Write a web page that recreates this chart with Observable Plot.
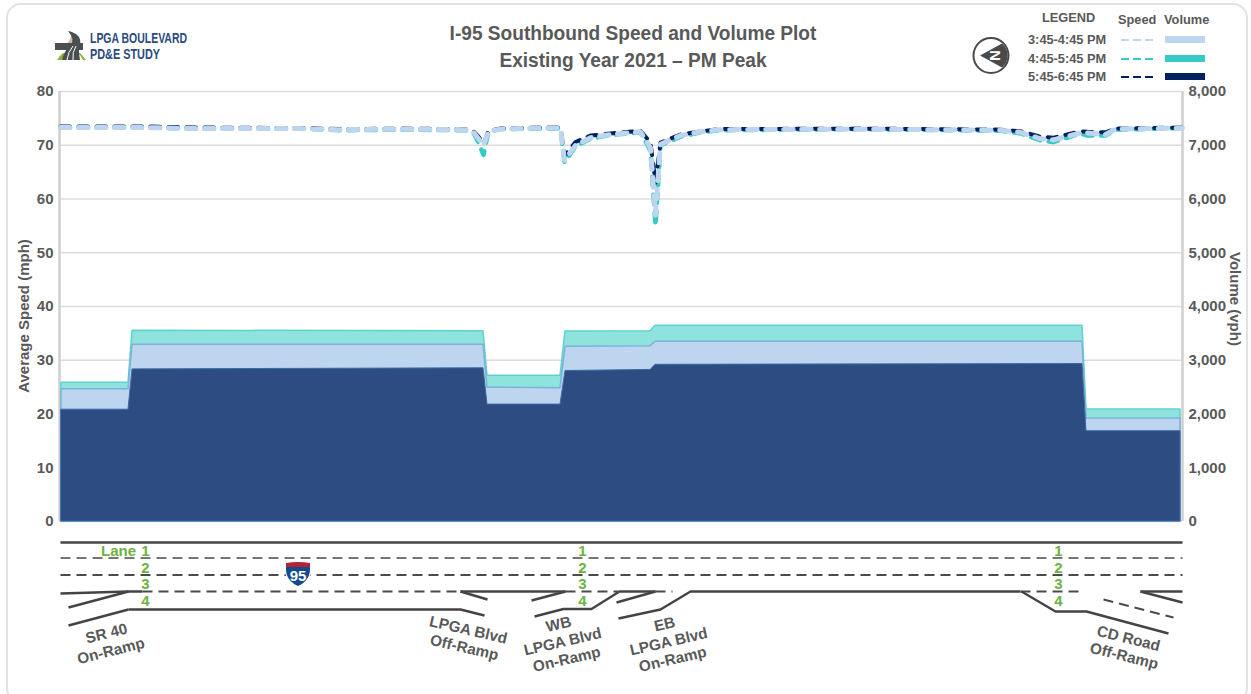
<!DOCTYPE html>
<html><head><meta charset="utf-8">
<script src="https://cdn.jsdelivr.net/npm/d3@7"></script>
<script src="https://cdn.jsdelivr.net/npm/@observablehq/plot@0.6"></script>
<style>
html,body{margin:0;padding:0;background:#fff;}
#page{position:relative;width:1251px;height:694px;overflow:hidden;font-family:"Liberation Sans",Arial,sans-serif;color:#595959;}
#card{position:absolute;left:6px;top:3px;width:1242px;height:700px;border:2px solid #e2e2e2;border-radius:15px;box-sizing:border-box;}
.abs{position:absolute;}
#title{left:333px;width:600px;top:19.5px;text-align:center;font-weight:bold;font-size:20px;line-height:27.5px;transform:scaleX(0.955);}
.lg{position:absolute;font-size:12.8px;font-weight:bold;line-height:14px;white-space:nowrap;}
.ax{position:absolute;font-size:15px;font-weight:bold;white-space:nowrap;line-height:18px;width:200px;text-align:center;}
</style></head><body>
<div id="page">
<div id="card"></div>
<div id="title" class="abs">I-95 Southbound Speed and Volume Plot<br>Existing Year 2021 – PM Peak</div>
<div class="ax" style="left:-76px;top:307px;transform:rotate(-90deg)">Average Speed (mph)</div>
<div class="ax" style="left:1135px;top:290px;transform:rotate(90deg)">Volume (vph)</div>
<svg class="abs" style="left:52px;top:28px" width="300" height="36" viewBox="0 0 300 36">
<path d="M5 32 Q8 27 11 25 L14 25 Q11 28 10 32Z" fill="#8fb33c"/>
<path d="M31 32 Q29 28 26 25 L28 25 Q31 28 34 32Z" fill="#8fb33c"/>
<path d="M9 18 Q20 15 19 4 Q29 10 27 17 L25 20Z" fill="#d2b9a0"/>
<path d="M3 15 L31 15 L31 22 L3 22Z" fill="#4a4f50"/>
<path d="M10 32 Q12 23 18 18 Q24 12 16 3 Q30 6 28 16 Q26 21 28 32Z" fill="#4a4f50"/>
<path d="M15 32 Q16 24 21 18" stroke="#fff" stroke-width="1" fill="none"/>
<path d="M21 32 Q20 24 24 18" stroke="#fff" stroke-width="1" fill="none"/>
<text x="38" y="15" font-family="Liberation Sans" font-weight="bold" font-size="15" fill="#2b4a80" textLength="97" lengthAdjust="spacingAndGlyphs">LPGA BOULEVARD</text>
<text x="38" y="31" font-family="Liberation Sans" font-weight="bold" font-size="15" fill="#2b4a80" textLength="70" lengthAdjust="spacingAndGlyphs">PD&amp;E STUDY</text>
</svg>
<svg class="abs" style="left:970px;top:36px" width="42" height="42" viewBox="0 0 42 42">
<circle cx="21" cy="19.5" r="17.5" fill="#fff" stroke="#4a4a4a" stroke-width="2"/>
<path d="M10 19.5 L32 7.5 A 15.5 15.5 0 0 1 32 31.5Z" fill="#4a4a4a"/>
<text x="0" y="0" transform="translate(25,19.5) rotate(-90)" text-anchor="middle" dy="5" font-family="Liberation Sans" font-weight="bold" font-size="15" fill="#fff">N</text>
</svg>
<div id="legend"></div>
</div>
<script>
// Station position along the corridor (0 = left end of plot)
const volumeStations = [1, 68, 72, 423, 427, 500, 505, 590, 595, 1022, 1026, 1120];
const volume345 = [2460, 2460, 3290, 3290, 2490, 2480, 3250, 3260, 3345, 3345, 1915, 1915];
const volume445 = [2580, 2580, 3550, 3540, 2710, 2710, 3535, 3540, 3640, 3640, 2085, 2085];
const volume545 = [2080, 2080, 2830, 2850, 2175, 2175, 2800, 2820, 2915, 2930, 1680, 1680];

const speedStations = [0, 80, 140, 240, 280, 340, 405, 413, 418, 423, 428, 440, 480, 500, 504, 515, 530, 550, 580, 590, 595, 600, 620, 640, 660, 800, 940, 960, 980, 993, 1020, 1027, 1045, 1055, 1122];
const speed345 = [73.3, 73.3, 73.1, 73.1, 72.9, 73.0, 72.9, 72.4, 71.2, 70.0, 72.6, 73.0, 73.2, 73.2, 67.2, 70.0, 71.4, 72.0, 72.5, 69.5, 57.0, 70.2, 71.8, 72.5, 72.9, 73.0, 72.8, 72.4, 71.2, 71.0, 72.3, 72.3, 72.0, 73.0, 73.2];
const speed445 = [73.3, 73.3, 73.1, 73.1, 72.8, 72.9, 72.8, 72.3, 70.5, 68.2, 72.6, 73.0, 73.1, 73.1, 66.8, 69.8, 71.2, 71.9, 72.4, 69.0, 55.0, 70.0, 71.6, 72.4, 72.8, 73.0, 72.7, 72.2, 70.9, 70.6, 72.2, 71.8, 71.8, 72.9, 73.2];
const speed545 = [73.5, 73.5, 73.3, 73.2, 73.0, 73.1, 73.0, 72.6, 71.6, 70.2, 72.7, 73.1, 73.3, 73.3, 68.0, 70.6, 71.8, 72.2, 72.7, 70.5, 63.0, 70.5, 72.0, 72.6, 73.0, 73.1, 72.9, 72.6, 71.6, 71.4, 72.6, 72.5, 72.4, 73.1, 73.3];

const mphTicks = [0, 10, 20, 30, 40, 50, 60, 70, 80];
const periods = ["3:45-4:45 PM", "4:45-5:45 PM", "5:45-6:45 PM"];
const lineColors = ["#bdd5ee", "#35cbc4", "#002060"];
const fillColors = ["#bdd5ee", "#8fe3dd", "#2d4d82"];

const volRows = (arr) => volumeStations.map((s, i) => ({s, v: arr[i] / 100}));
const spdRows = (arr) => speedStations.map((s, i) => ({s, v: arr[i]}));
const X = {domain: [0, 1122], range: [60, 1182]};
const speedDash = "9.5 8.5";

const chart = Plot.plot({
  width: 1251, height: 535, marginTop: 91, marginBottom: 14, marginLeft: 59, marginRight: 69,
  x: {...X, axis: null},
  y: {domain: [0, 80], range: [521, 91]},
  style: {background: "transparent", fontFamily: "Liberation Sans", overflow: "visible"},
  marks: [
    Plot.ruleY(mphTicks, {stroke: "#dcdcdc", strokeWidth: 1.5, x1: -1, x2: 1122}),
    Plot.ruleX([-1, 1122], {stroke: "#cfcfcf", strokeWidth: 2.5, y1: 0, y2: 80}),
    Plot.areaY(volRows(volume445), {x: "s", y: "v", fill: fillColors[1], stroke: "#5ed3ce", strokeWidth: 1.5}),
    Plot.areaY(volRows(volume345), {x: "s", y: "v", fill: fillColors[0], stroke: "#7bb2dc", strokeWidth: 1.5}),
    Plot.areaY(volRows(volume545), {x: "s", y: "v", fill: fillColors[2], stroke: "#3a6aa5", strokeWidth: 1}),
    Plot.line(spdRows(speed445), {x: "s", y: "v", stroke: lineColors[1], strokeWidth: 4.5, strokeDasharray: speedDash}),
    Plot.line(spdRows(speed545), {x: "s", y: "v", stroke: lineColors[2], strokeWidth: 4, strokeDasharray: speedDash}),
    Plot.line(spdRows(speed345), {x: "s", y: "v", stroke: lineColors[0], strokeWidth: 5, strokeDasharray: speedDash}),
    Plot.axisY(mphTicks, {anchor: "left", tickSize: 0, tickPadding: 6, fontSize: 15, fontWeight: "bold", fill: "#595959",
      label: null, tickFormat: d => d}),
    Plot.axisY(mphTicks, {anchor: "right", tickSize: 0, tickPadding: 6, fontSize: 15, fontWeight: "bold", fill: "#595959",
      label: null, tickFormat: d => d3.format(",")(d * 100)})
  ]
});
chart.style.position = "absolute";
chart.style.left = "0";
chart.style.top = "0";
document.getElementById("page").appendChild(chart);

// Road schematic: station along corridor vs offset from the schematic's top
const edges = [
  [[0, 12], [1122, 12]],
  [[68, 79], [400, 79], [424, 85]],
  [[0, 63], [68, 61], [82, 61]],
  [[8, 77], [68, 61]],
  [[8, 95], [68, 79]],
  [[400, 61], [505, 61]],
  [[400, 61], [427, 69]],
  [[471, 70], [505, 61]],
  [[474, 86], [503, 78.5], [531, 78.5], [559, 61], [595, 61]],
  [[556, 72], [595, 61]],
  [[558, 88], [600, 79], [630, 61], [960, 61]],
  [[961, 61], [995, 81], [1026, 81], [1108, 103]],
  [[1080, 61], [1122, 61]],
  [[1080, 61], [1122, 72]]
];
const laneLines = [
  {pts: [[0, 27.5], [1122, 27.5]], w: 1.6},
  {pts: [[0, 44.5], [1122, 44.5]], w: 2.2},
  {pts: [[82, 61], [400, 61]], w: 2},
  {pts: [[505, 61], [558, 61]], w: 2},
  {pts: [[595, 61], [612, 61]], w: 2},
  {pts: [[960, 61], [1020, 61]], w: 2},
  {pts: [[1043, 69], [1113, 87]], w: 2}
];
const laneNumbers = ["1", "2", "3", "4"];
const laneY = [21, 38, 54, 71];
const laneX = [85, 522, 998];
const rampLabels = [
  {t: "SR 40\nOn-Ramp", s: 48, o: 111, r: -14},
  {t: "LPGA Blvd\nOff-Ramp", s: 406, o: 107.5, r: 13},
  {t: "WB\nLPGA Blvd\nOn-Ramp", s: 502, o: 110.5, r: -13},
  {t: "EB\nLPGA Blvd\nOn-Ramp", s: 608, o: 110.5, r: -13},
  {t: "CD Road\nOff-Ramp", s: 1066, o: 116, r: 14}
];
const lanesText = laneX.flatMap(s => laneNumbers.map((t, i) => ({s, o: laneY[i], t})));
const asRows = (pts) => pts.map(([s, o]) => ({s, o}));

const road = Plot.plot({
  width: 1251, height: 164, marginTop: 0, marginBottom: 0, marginLeft: 60, marginRight: 69,
  x: {...X, axis: null},
  y: {domain: [0, 164], range: [0, 164], axis: null},
  style: {background: "transparent", fontFamily: "Liberation Sans"},
  marks: [
    ...laneLines.map(l => Plot.line(asRows(l.pts), {x: "s", y: "o", stroke: "#4a4a4a", strokeWidth: l.w, strokeDasharray: "10 6", strokeLinecap: "butt"})),
    ...edges.map(e => Plot.line(asRows(e), {x: "s", y: "o", stroke: "#444", strokeWidth: 2.4, strokeLinecap: "butt"})),
    Plot.text(lanesText, {x: "s", y: "o", text: "t", fill: "#6cb33f", fontSize: 15, fontWeight: "bold"}),
    Plot.text(["Lane"], {x: [58], y: [21], text: d => d, fill: "#6cb33f", fontSize: 15, fontWeight: "bold"}),
    Plot.text(rampLabels, {x: "s", y: "o", text: "t", rotate: "r", fill: "#595959", fontSize: 15.3, fontWeight: "bold", lineHeight: 1.18})
  ]
});
road.style.position = "absolute";
road.style.left = "0";
road.style.top = "530px";
document.getElementById("page").appendChild(road);

document.getElementById("page").insertAdjacentHTML("beforeend",
`<svg class="abs" style="left:284px;top:560px" width="28" height="28" viewBox="0 0 28 28">
<path d="M2 3 Q14 0 26 3 Q27 20 14 26 Q1 20 2 3Z" fill="#fff" stroke="#fff" stroke-width="3"/>
<path d="M2 3 Q14 1 26 3 L26 7 L2 7Z" fill="#b52135"/>
<path d="M2 7 L26 7 Q27 20 14 26 Q1 20 2 7Z" fill="#12498f"/>
<text x="14" y="21" text-anchor="middle" font-family="Liberation Sans" font-weight="bold" font-size="15" fill="#fff">95</text>
</svg>`);

// Legend
const lg = document.getElementById("legend");
const add = (txt, css) => { const d = document.createElement("div"); d.className = "lg"; d.style.cssText = css; d.textContent = txt; lg.appendChild(d); };
add("LEGEND", "left:1042px;top:11px;");
add("Speed", "left:1118px;top:13px;");
add("Volume", "left:1164px;top:13px;");
periods.forEach((p, i) => {
  const y = 33 + i * 18.6;
  add(p, `left:1028px;top:${y}px;`);
  lg.insertAdjacentHTML("beforeend",
    `<svg class="abs" style="left:1120px;top:${y + 3}px" width="34" height="8"><line x1="1" x2="33" y1="4" y2="4" stroke="${lineColors[i]}" stroke-width="2" stroke-dasharray="8 4"/></svg>` +
    `<div class="abs" style="left:1165px;top:${y + 3}px;width:40px;height:7px;background:${lineColors[i]}"></div>`);
});
</script>
</body></html>
